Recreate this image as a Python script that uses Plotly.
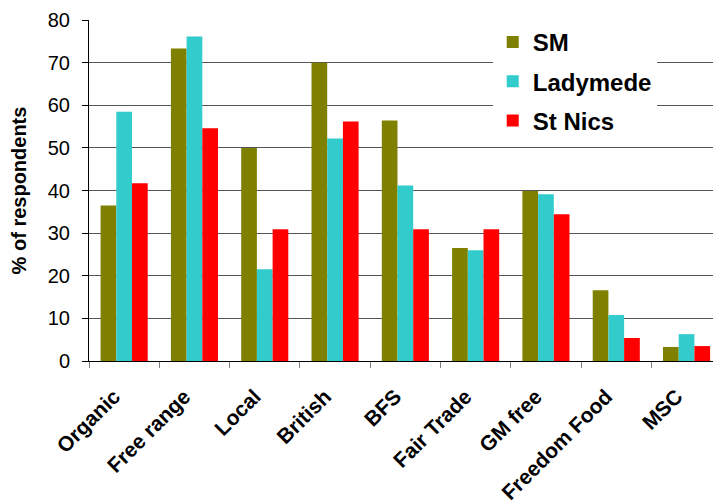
import plotly.graph_objects as go

categories = ["Organic", "Free range", "Local", "British", "BFS",
              "Fair Trade", "GM free", "Freedom Food", "MSC"]
sm = [36.5, 73.3, 50.0, 70.0, 56.4, 26.5, 39.9, 16.6, 3.3]
ladymede = [58.5, 76.1, 21.5, 52.2, 41.2, 26.0, 39.1, 10.8, 6.3]
st_nics = [41.7, 54.6, 30.9, 56.2, 30.9, 30.9, 34.4, 5.4, 3.5]
y_ticks = [0, 10, 20, 30, 40, 50, 60, 70, 80]

FONT = "Liberation Sans, Arial, sans-serif"

series = [
    ("SM", sm, "#808000"),
    ("Ladymede", ladymede, "#33CCCC"),
    ("St Nics", st_nics, "#FF0000"),
]

fig = go.Figure()
for name, vals, color in series:
    fig.add_trace(go.Bar(
        x=categories, y=vals, name=name, legendgroup=name,
        marker=dict(color=color, line=dict(width=0)),
    ))

fig.update_layout(
    width=713, height=504,
    margin=dict(l=89, r=0, t=20, b=143, autoexpand=False),
    paper_bgcolor="white", plot_bgcolor="white",
    barmode="group", bargap=0.33, bargroupgap=0,
    font=dict(family=FONT, color="black"),
    legend=dict(
        x=0.647, y=1.0, xanchor="left", yanchor="top",
        bgcolor="white", borderwidth=0,
        font=dict(family=FONT, size=24, color="black", weight="bold"),
        traceorder="grouped", tracegroupgap=5,
    ),
    xaxis=dict(
        range=[-0.5, 8.376],
        showline=True, linecolor="black", linewidth=1,
        ticks="outside", tickson="boundaries", ticklen=6, tickcolor="#808080",
        tickangle=-45, ticklabelstandoff=14, ticklabelshift=-10,
        tickfont=dict(family=FONT, size=21, color="black", weight="bold"),
        showgrid=False, automargin=False,
    ),
    yaxis=dict(
        range=[0, 80], tickvals=y_ticks,
        showline=True, linecolor="black", linewidth=1,
        ticks="outside", ticklen=6, tickcolor="black",
        ticklabelstandoff=8,
        tickfont=dict(family=FONT, size=20, color="black"),
        showgrid=True, gridcolor="#555555", gridwidth=1,
        zeroline=False,
        title=dict(text="% of respondents",
                   font=dict(family=FONT, size=20, color="black", weight="bold")),
        automargin=False,
    ),
)

fig.write_html("out.html")
